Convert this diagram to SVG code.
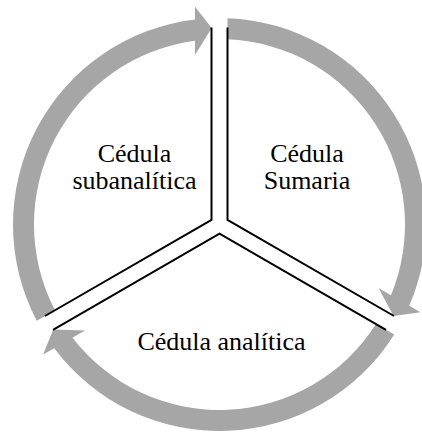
<svg xmlns="http://www.w3.org/2000/svg" width="422" height="432" viewBox="0 0 422 432">
<style>
.arr{fill:#a6a6a6;stroke:none}
.ln{stroke:#000;stroke-width:2;fill:none;stroke-linecap:butt}
text{font-family:'Liberation Serif','Times New Roman',Times,serif;font-size:26px;fill:#000;text-anchor:middle}
</style>
<defs>
<path id="arrow" d="M 8,-206.35 A 206.5 206.5 0 0 1 189.81,81.3 L 200.86,87.68 L 174.07,91.5 L 159.04,63.53 L 171.48,70.72 A 185.5 185.5 0 0 0 8,-185.33 Z"/>
</defs>
<g id="connectors">
<g transform="translate(219.5,224.5)">
<use href="#arrow" class="arr"/>
<use href="#arrow" class="arr" transform="rotate(120)"/>
<use href="#arrow" class="arr" transform="rotate(240)"/>
</g>
<g class="ln">
<polyline points="211.5,27.5 211.5,219.9 45,316"/>
<polyline points="227.5,27.5 227.5,219.9 394,316"/>
<polyline points="53,329.8 219.5,233.7 386,329.8"/>
</g>
</g>
<g id="node-subanalitica">
<text x="134.5" y="161.5">Cédula</text>
<text x="134.5" y="189">subanalítica</text>
</g>
<g id="node-sumaria">
<text x="307" y="161.5">Cédula</text>
<text x="307" y="188.5">Sumaria</text>
</g>
<g id="node-analitica">
<text x="221.5" y="350">Cédula analítica</text>
</g>
</svg>
